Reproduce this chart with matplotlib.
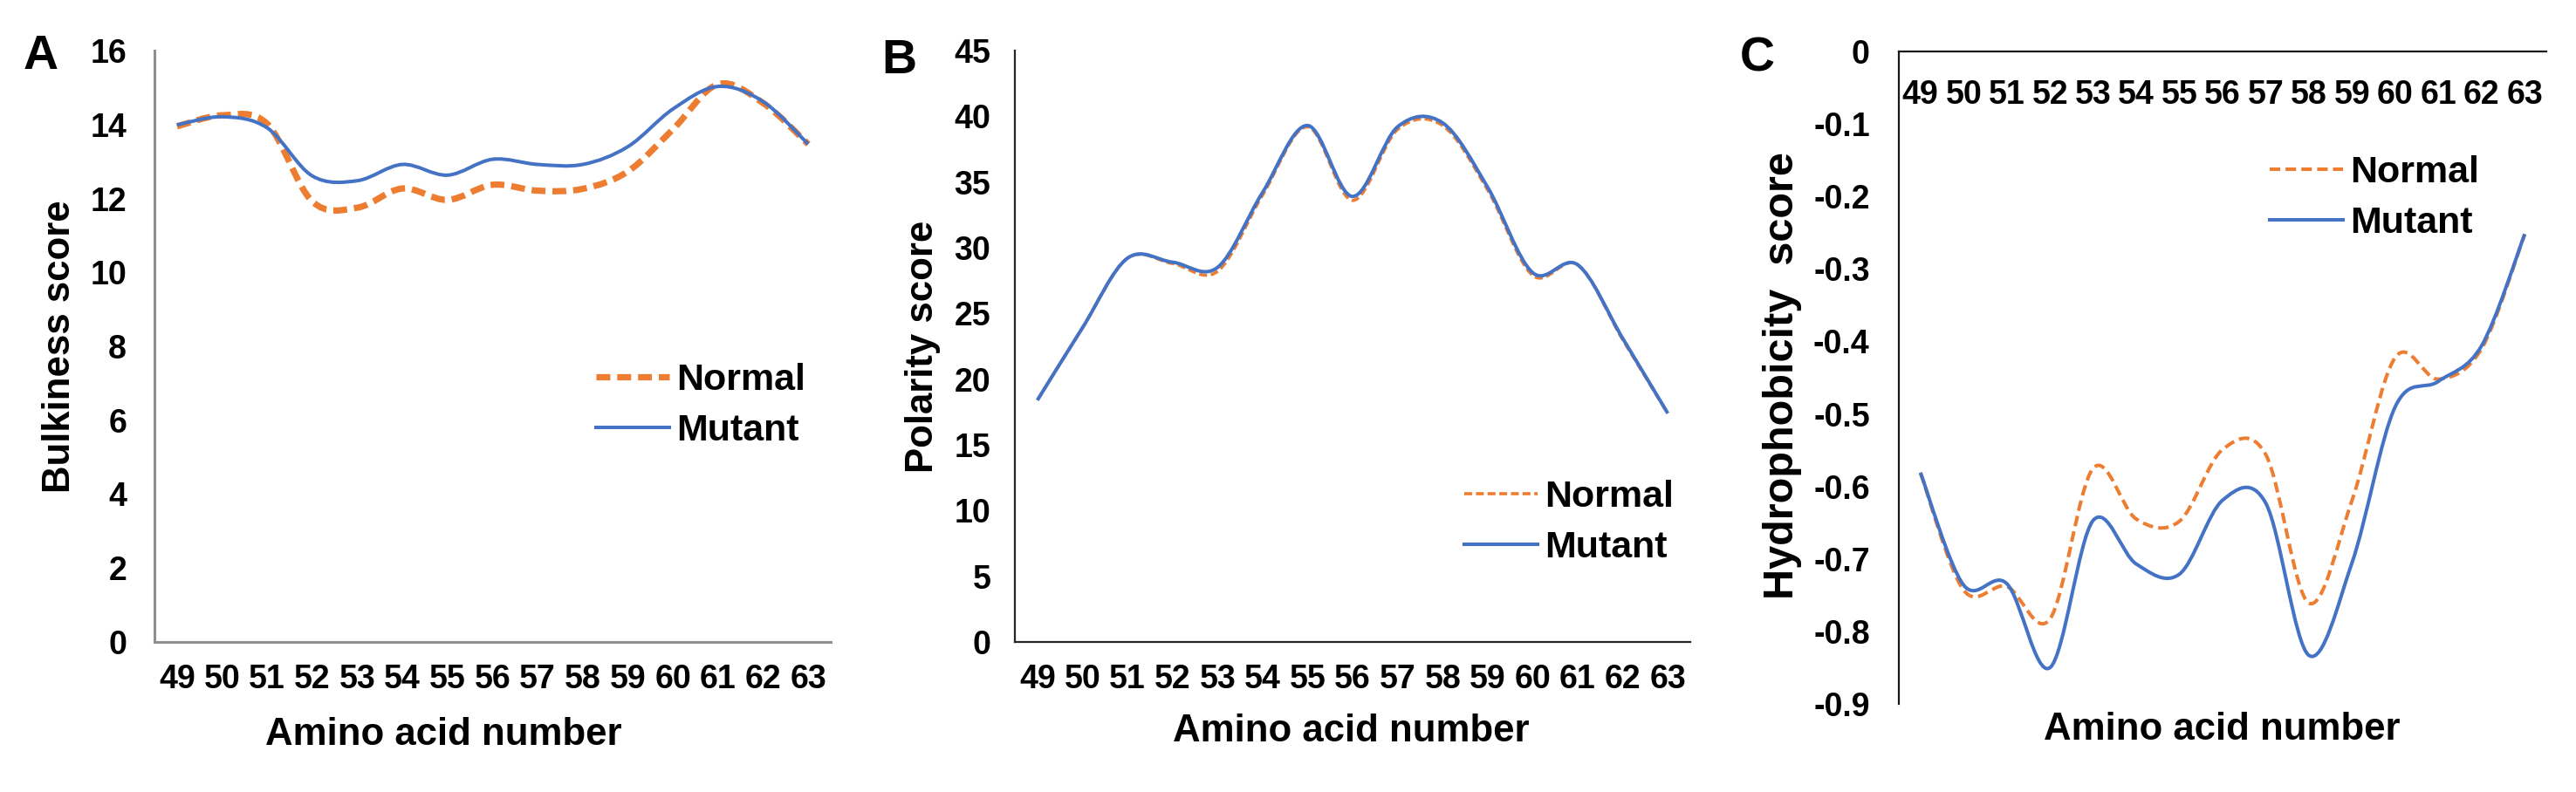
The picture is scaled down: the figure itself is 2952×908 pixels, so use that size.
import matplotlib
matplotlib.use('Agg')
import matplotlib.pyplot as plt
from matplotlib.path import Path
from matplotlib.patches import PathPatch
from matplotlib.lines import Line2D

plt.rcParams['font.family'] = ['Liberation Sans', 'DejaVu Sans']
plt.rcParams['font.weight'] = 'bold'

# ---------------- data ----------------
residues = ['49', '50', '51', '52', '53', '54', '55', '56', '57', '58', '59', '60', '61', '62', '63']
series_names = ['Normal', 'Mutant']

bulk_normal = [13.95, 14.25, 14.02, 11.92, 11.75, 12.27, 11.96, 12.37, 12.21, 12.26, 12.73, 13.87, 15.09, 14.58, 13.47]
bulk_mutant = [13.99, 14.21, 13.91, 12.61, 12.48, 12.92, 12.63, 13.06, 12.92, 12.92, 13.40, 14.42, 15.03, 14.62, 13.47]

polar_normal = [18.4, 23.9, 29.2, 28.8, 28.2, 34.0, 39.2, 33.6, 39.0, 39.3, 34.4, 27.9, 28.7, 23.0, 17.4]
polar_mutant = [18.4, 23.9, 29.2, 28.9, 28.5, 34.2, 39.3, 33.9, 39.2, 39.5, 34.6, 28.1, 28.7, 23.1, 17.4]

hydro_normal = [-0.581, -0.743, -0.738, -0.783, -0.575, -0.645, -0.648, -0.549, -0.556, -0.761, -0.619, -0.422, -0.452, -0.410, -0.252]
hydro_mutant = [-0.581, -0.736, -0.734, -0.850, -0.647, -0.707, -0.721, -0.619, -0.623, -0.833, -0.705, -0.490, -0.455, -0.406, -0.252]

bulk_ticks = [0, 2, 4, 6, 8, 10, 12, 14, 16]
polar_ticks = [0, 5, 10, 15, 20, 25, 30, 35, 40, 45]
hydro_ticks = [-0.9, -0.8, -0.7, -0.6, -0.5, -0.4, -0.3, -0.2, -0.1, 0]
hydro_tick_labels = ['-0.9', '-0.8', '-0.7', '-0.6', '-0.5', '-0.4', '-0.3', '-0.2', '-0.1', '0']

ORANGE = '#ED7D31'
BLUE = '#4472C4'

W, H = 2952, 908
fig = plt.figure(figsize=(W / 100, H / 100), dpi=100)


def box(l, r, t, b):
    return [l / W, 1 - b / H, (r - l) / W, (b - t) / H]


def smooth_line(ax, values, **kw):
    """Excel-like smoothed line: cubic Bezier segments through the points."""
    n = len(values)
    xs = list(range(n))
    verts = [(xs[0], values[0])]
    codes = [Path.MOVETO]
    for i in range(n - 1):
        xp, yp = (xs[i - 1], values[i - 1]) if i > 0 else (xs[i], values[i])
        xn, yn = (xs[i + 2], values[i + 2]) if i + 2 < n else (xs[i + 1], values[i + 1])
        c1 = (xs[i] + (xs[i + 1] - xp) / 6, values[i] + (values[i + 1] - yp) / 6)
        c2 = (xs[i + 1] - (xn - xs[i]) / 6, values[i + 1] - (yn - values[i]) / 6)
        verts += [c1, c2, (xs[i + 1], values[i + 1])]
        codes += [Path.CURVE4] * 3
    patch = PathPatch(Path(verts, codes), fill=False, joinstyle='round', **kw)
    ax.add_patch(patch)


def base_axes(rect, ylim, spine_color, spine_lw):
    ax = fig.add_axes(rect)
    ax.set_xlim(-0.5, len(residues) - 0.5)
    ax.set_ylim(*ylim)
    for s in ax.spines.values():
        s.set_color(spine_color)
        s.set_linewidth(spine_lw)
    ax.tick_params(length=0, labelsize=27, colors='black')
    ax.set_xticks(range(len(residues)))
    ax.set_xticklabels(residues)
    return ax


def add_legend(ax, x, y, normal_kw, mutant_kw):
    handles = [Line2D([], [], color=ORANGE, **normal_kw),
               Line2D([], [], color=BLUE, **mutant_kw)]
    ax.legend(handles, series_names, loc='center left',
              bbox_to_anchor=(x / W, 1 - y / H), bbox_transform=fig.transFigure,
              frameon=False, fontsize=31, handlelength=1.95, handletextpad=0.18,
              labelspacing=0.42, borderpad=0, borderaxespad=0)


# ---------------- Panel A ----------------
axA = base_axes(box(177, 952, 58, 736), (0, 16), '#8f8f8f', 2.2)
axA.spines['top'].set_visible(False)
axA.spines['right'].set_visible(False)
axA.set_yticks(bulk_ticks)
axA.tick_params(axis='y', pad=23)
axA.tick_params(axis='x', pad=18)
nA = dict(lw=5.2, ls=(0, (2.2, 1.1)))
mA = dict(lw=2.9, ls='-')
smooth_line(axA, bulk_normal, edgecolor=ORANGE, linewidth=nA['lw'], linestyle=nA['ls'])
smooth_line(axA, bulk_mutant, edgecolor=BLUE, linewidth=mA['lw'], linestyle=mA['ls'])
add_legend(axA, 683, 465, nA, mA)

# ---------------- Panel B ----------------
axB = base_axes(box(1163, 1937, 58, 736), (0, 45), '#262626', 1.6)
axB.spines['top'].set_visible(False)
axB.spines['right'].set_visible(False)
axB.set_yticks(polar_ticks)
axB.tick_params(axis='y', pad=20)
axB.tick_params(axis='x', pad=18)
nB = dict(lw=2.6, ls=(0, (2.5, 1.2)))
mB = dict(lw=2.9, ls='-')
smooth_line(axB, polar_normal, edgecolor=ORANGE, linewidth=nB['lw'], linestyle=nB['ls'])
smooth_line(axB, polar_mutant, edgecolor=BLUE, linewidth=mB['lw'], linestyle=mB['ls'])
add_legend(axB, 1678, 599, nB, mB)

# ---------------- Panel C ----------------
axC = base_axes(box(2176, 2918, 59, 807), (-0.9, 0), '#1a1a1a', 1.6)
axC.spines['bottom'].set_visible(False)
axC.spines['right'].set_visible(False)
axC.set_yticks(hydro_ticks)
axC.set_yticklabels(hydro_tick_labels)
axC.xaxis.tick_top()
axC.tick_params(axis='y', pad=24)
axC.tick_params(axis='x', pad=-49)
nC = dict(lw=2.9, ls=(0, (3.0, 1.5)))
mC = dict(lw=2.9, ls='-')
smooth_line(axC, hydro_normal, edgecolor=ORANGE, linewidth=nC['lw'], linestyle=nC['ls'])
smooth_line(axC, hydro_mutant, edgecolor=BLUE, linewidth=mC['lw'], linestyle=mC['ls'])
add_legend(axC, 2601, 227, nC, mC)

# ---------------- titles ----------------
def ftext(x, y, s, **kw):
    fig.text(x / W, 1 - y / H, s, ha='center', va='center', fontweight='bold', **kw)

ftext(47, 65, 'A', fontsize=40)
ftext(1030, 70, 'B', fontsize=40)
ftext(2014, 67, 'C', fontsize=40)

ftext(69, 397, 'Bulkiness score', fontsize=31.5, rotation=90)
ftext(1058, 397, 'Polarity score', fontsize=31.5, rotation=90)
ftext(2043, 431, 'Hydrophobicity  score', fontsize=35, rotation=90)

ftext(508, 843, 'Amino acid number', fontsize=31.5)
ftext(1548, 838, 'Amino acid number', fontsize=31.5)
ftext(2546, 837, 'Amino acid number', fontsize=31.5)

fig.savefig('out.png', dpi=100)
